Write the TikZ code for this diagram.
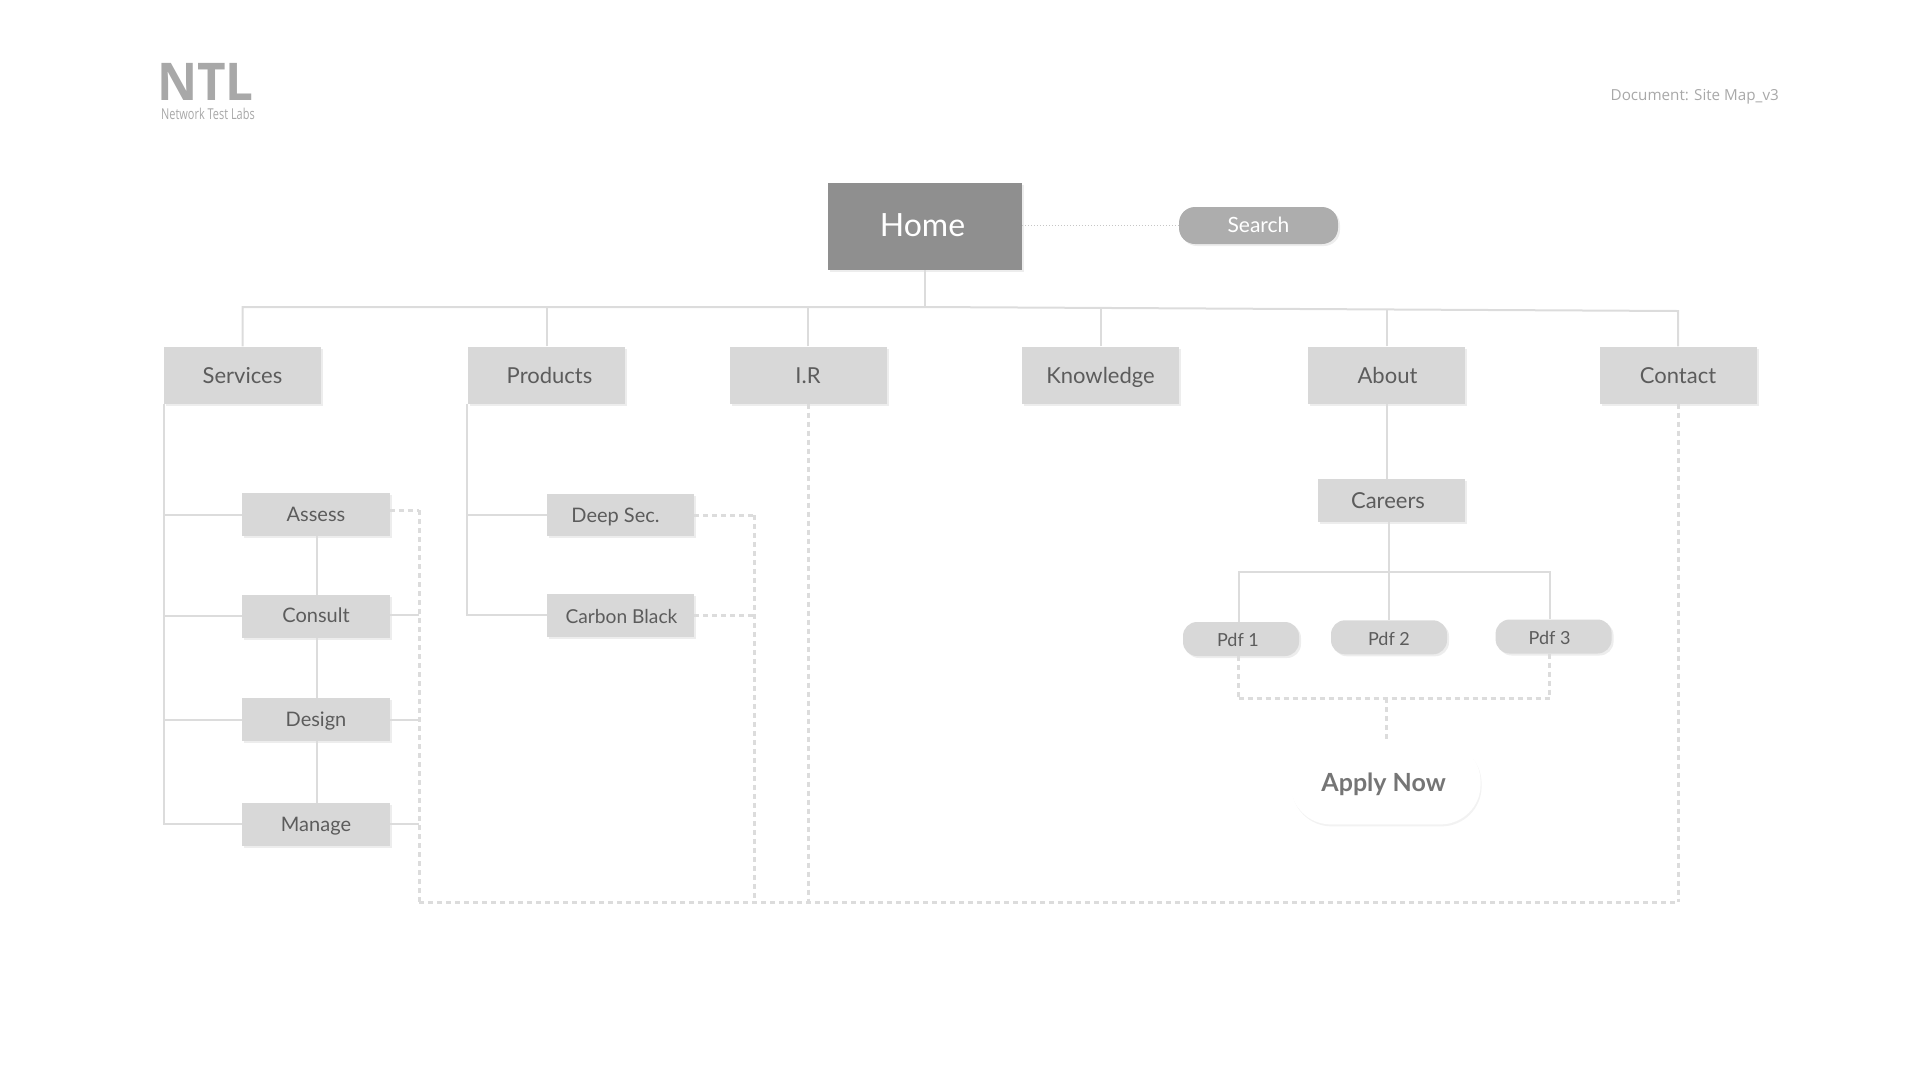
\documentclass[tikz,border=0pt]{standalone}
\usepackage{fontspec}
\setmainfont{Lato}
\newfontfamily\logofont[FakeStretch=0.95]{Open Sans}
\newfontfamily\docfont{Open Sans}
\newfontfamily\tagfont[FakeStretch=0.73]{Open Sans}
\usetikzlibrary{positioning,shadows}
\definecolor{boxgray}{HTML}{D8D8D8}
\definecolor{homegray}{HTML}{8F8F8F}
\definecolor{pillgray}{HTML}{ADADAD}
\definecolor{linegray}{HTML}{DCDCDC}
\definecolor{textgray}{HTML}{5C5C5C}
\definecolor{logogray}{HTML}{A8A8A8}
\tikzset{
    softshadow/.style={drop shadow={shadow xshift=2pt,shadow yshift=-2pt,fill=black,opacity=0.07}},
    topbox/.style={rectangle,fill=boxgray,softshadow,text=textgray,font=\fontsize{22}{26}\selectfont,
        minimum width=157pt,minimum height=57pt,inner sep=0pt,text height=16pt,text depth=0pt},
    subbox/.style={topbox,minimum width=147.5pt,minimum height=42.7pt,font=\fontsize{20}{24}\selectfont,text height=14pt},
    pdfpill/.style={rectangle,rounded corners=14pt,fill=boxgray,softshadow,text=textgray,font=\fontsize{18}{22}\selectfont,
        minimum width=116pt,minimum height=34pt,inner sep=0pt,text height=16pt,text depth=0pt},
    solidline/.style={draw=linegray,line width=2pt},
    dashline/.style={draw=linegray,line width=3pt,dash pattern=on 5pt off 4pt},
    dotline/.style={draw=linegray,line width=3pt,dash pattern=on 5pt off 4pt}
}

\begin{document}
\begin{tikzpicture}[x=1pt,y=-1pt]
    \useasboundingbox (0,0) rectangle (1920,1080);

    % Header
    \node[inner sep=0pt,anchor=north west,text=logogray,font=\logofont\bfseries\fontsize{52}{52}\selectfont,text height=38pt,text depth=0pt] (logo) at (157,62.5) {NTL};
    \node[inner sep=0pt,anchor=north west,text=logogray,font=\tagfont\fontsize{15}{15}\selectfont,text height=11pt,text depth=0pt] (tagline) at (161,108) {Network Test Labs};
    \node[inner sep=0pt,anchor=east,text=logogray,font=\docfont\fontsize{15.2}{16}\selectfont] (document) at (1779,97) {Document: Site Map\_v3};

    % Top level
    \node[rectangle,fill=homegray,softshadow,text=white,font=\fontsize{32}{36}\selectfont,minimum width=193.5pt,minimum height=87pt,inner sep=0pt,text height=23pt,text depth=4pt] (home) at (925,226.5) {\hspace*{-5pt}Home};
    \node[rectangle,rounded corners=16pt,fill=pillgray,softshadow,text=white,font=\fontsize{21}{25}\selectfont,minimum width=159pt,minimum height=37pt,inner sep=0pt,text height=15pt,text depth=1.5pt] (search) at (1258.5,225.5) {Search};

    \node[topbox] (services) at (242.5,375) {Services};
    \node[topbox] (products) at (546,375) {\hspace*{7pt}Products};
    \node[topbox] (ir) at (808,375) {I.R};
    \node[topbox] (knowledge) at (1100.5,375) {Knowledge};
    \node[topbox] (about) at (1386.5,375) {\hspace*{2pt}About};
    \node[topbox] (contact) at (1678,375) {Contact};

    % Services children
    \node[subbox] (assess) at (316,514.7) {Assess};
    \node[subbox,text depth=2pt] (consult) at (316,616.4) {Consult};
    \node[subbox] (design) at (316,719.7) {Design};
    \node[subbox] (manage) at (316,824.4) {Manage};

    % Products children
    \node[subbox] (deepsec) at (620.5,515) {\hspace*{-10pt}Deep Sec.};
    \node[subbox,font=\fontsize{19.2}{23}\selectfont,text height=15.5pt] (carbon) at (620.5,615.3) {\hspace*{2pt}Carbon Black};

    % About children
    \node[subbox,font=\fontsize{22}{26}\selectfont,text height=15pt] (careers) at (1391.5,500.7) {\hspace*{-7pt}Careers};
    \node[pdfpill,text height=15pt] (pdfa) at (1241,639) {\hspace*{-6pt}Pdf 1};
    \node[pdfpill] (pdfb) at (1389,637.3) {Pdf 2};
    \node[pdfpill] (pdfc) at (1553.6,636.5) {\hspace*{-8pt}Pdf 3};
    \node[rectangle,rounded corners=40pt,fill=white,drop shadow={shadow xshift=1pt,shadow yshift=-2pt,fill=black,opacity=0.05},text=textgray!85!white,font=\bfseries\fontsize{25}{29}\selectfont,minimum width=190pt,minimum height=82.7pt,inner sep=0pt,text height=21pt,text depth=5pt] (apply) at (1385.6,783) {\hspace*{-4pt}Apply Now};

    \coordinate (busmid) at (925,307);
    \coordinate (busright) at (1678,311);
    \coordinate (pdfbarl) at (1238.6,571.6);
    \coordinate (pdfbarm) at (1388.7,571.6);
    \coordinate (pdfbarr) at (1549.7,571.6);
    \coordinate (pdfbasel) at (1238.6,698);
    \coordinate (pdfbasem) at (1386.8,698);
    \coordinate (pdfbaser) at (1549.7,698);
    \coordinate (dashbase) at (419,902);
    \coordinate (deepturn) at (754.6,515);

    % Home to the top level
    \draw[draw=linegray!90!black,line width=1.6pt,dash pattern=on 1.5pt off 1.5pt] (home.east |- search.west) -- (search.west);
    \draw[solidline] (home.south) -- (busmid);
    \draw[solidline] (services.north) |- (busmid) -- (busright) -- (contact.north);
    \draw[solidline] ([xshift=1pt]products.north) -- ([xshift=1pt]products.north |- busmid);
    \draw[solidline] (ir.north) -- (ir.north |- busmid);
    \draw[solidline] (knowledge.north) -- ++(0,-38);
    \draw[solidline] (about.north) -- ++(0,-37);

    % Services side
    \draw[solidline] (services.south west) |- (manage.west);
    \draw[solidline] (services.south west |- assess.west) -- (assess.west);
    \draw[solidline] (services.south west |- consult.west) -- (consult.west);
    \draw[solidline] (services.south west |- design.west) -- (design.west);
    \draw[solidline] ([xshift=1pt]assess.south) -- ([xshift=1pt]consult.north);
    \draw[solidline] ([xshift=1pt]consult.south) -- ([xshift=1pt]design.north);
    \draw[solidline] ([xshift=1pt]design.south) -- ([xshift=1pt]manage.north);
    \draw[solidline] ([yshift=1.4pt]consult.east) -- ([yshift=1.4pt]consult.east -| dashbase);
    \draw[solidline] (design.east) -- (design.east -| dashbase);
    \draw[solidline] (manage.east) -- (manage.east -| dashbase);

    % Products side
    \draw[solidline] (products.south west) |- (carbon.west);
    \draw[solidline] (products.south west |- deepsec.west) -- (deepsec.west);

    % About side
    \draw[solidline] (about.south) -- (about.south |- careers.north);
    \draw[solidline] (pdfbarm |- careers.south) -- (pdfb.north -| pdfbarm);
    \draw[solidline] (pdfbarl |- pdfa.north) -- (pdfbarl) -- (pdfbarr) -- (pdfbarr |- pdfc.north);

    % Dashed routes along the foot
    \draw[dotline] ([yshift=4.4pt]assess.east) -- ([yshift=4.4pt]assess.east -| dashbase);
    \draw[dashline] ([yshift=4.4pt]assess.east -| dashbase) -- (dashbase);
    \draw[dotline] (deepsec.east) -- (deepturn);
    \draw[dashline] (deepturn) -- (deepturn |- dashbase);
    \draw[dotline] (carbon.east) -- (carbon.east -| deepturn);
    \draw[dashline] (ir.south) -- (ir.south |- dashbase);
    \draw[dashline] (contact.south) -- (contact.south |- dashbase);
    \draw[dotline] (dashbase) -- (dashbase -| contact.south);

    % Pdf to apply
    \draw[dashline] (pdfbasel |- pdfa.south) -- (pdfbasel);
    \draw[dashline] (pdfbaser |- pdfc.south) -- (pdfbaser);
    \draw[dotline] (pdfbasel) -- (pdfbaser);
    \draw[dashline] (pdfbasem) -- (pdfbasem |- apply.north);
\end{tikzpicture}
\end{document}
